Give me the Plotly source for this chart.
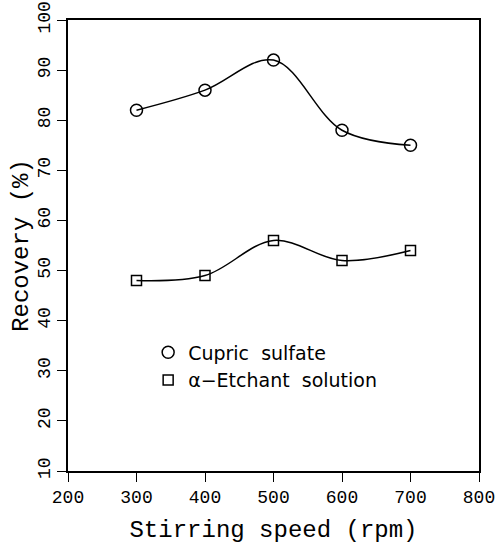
import plotly.graph_objects as go

speed = [300, 400, 500, 600, 700]
cupric = [82, 86, 92, 78, 75]
etchant = [48, 49, 56, 52, 54]
x_ticks = [200, 300, 400, 500, 600, 700, 800]
y_ticks = [10, 20, 30, 40, 50, 60, 70, 80, 90, 100]

fig = go.Figure()
for y in (cupric, etchant):
    fig.add_trace(go.Scatter(x=speed, y=y, mode="lines", line=dict(shape="spline", smoothing=1.0, color="black", width=1.5),
                             showlegend=False, hoverinfo="skip"))
fig.add_trace(go.Scatter(x=speed, y=cupric, mode="markers", name="Cupric\u00a0\u00a0sulfate",
                         marker=dict(symbol="circle-open", size=12, color="black", line=dict(width=1.5))))
fig.add_trace(go.Scatter(x=speed, y=etchant, mode="markers", name="α−Etchant\u00a0\u00a0solution",
                         marker=dict(symbol="square-open", size=10, color="black", line=dict(width=1.5))))

axis_common = dict(showgrid=False, zeroline=False, showline=True, linecolor="black", linewidth=1.5,
                   mirror=True, ticks="outside", ticklen=9, tickwidth=1.2, tickcolor="black",
                   ticklabeloverflow="allow", automargin=False,
                   tickfont=dict(family="Liberation Mono", size=18, color="black"))
fig.update_xaxes(range=[200, 800], tickvals=x_ticks, **axis_common,
                 title=dict(text="Stirring speed (rpm)", font=dict(family="Liberation Mono", size=24, color="black"), standoff=13))
fig.update_yaxes(range=[10, 100], tickvals=y_ticks, tickangle=-90, **axis_common,
                 title=dict(text="Recovery (%)", font=dict(family="Liberation Mono", size=24, color="black"), standoff=0))

fig.update_layout(width=495, height=550, margin=dict(l=68, r=16, t=20, b=79),
                  plot_bgcolor="white", paper_bgcolor="white",
                  legend=dict(x=0.195, y=0.305, xanchor="left", yanchor="top", bgcolor="rgba(0,0,0,0)",
                              font=dict(family="DejaVu Sans", size=19, color="black"), itemwidth=30,
                              tracegroupgap=0))
fig.write_html("out.html")
